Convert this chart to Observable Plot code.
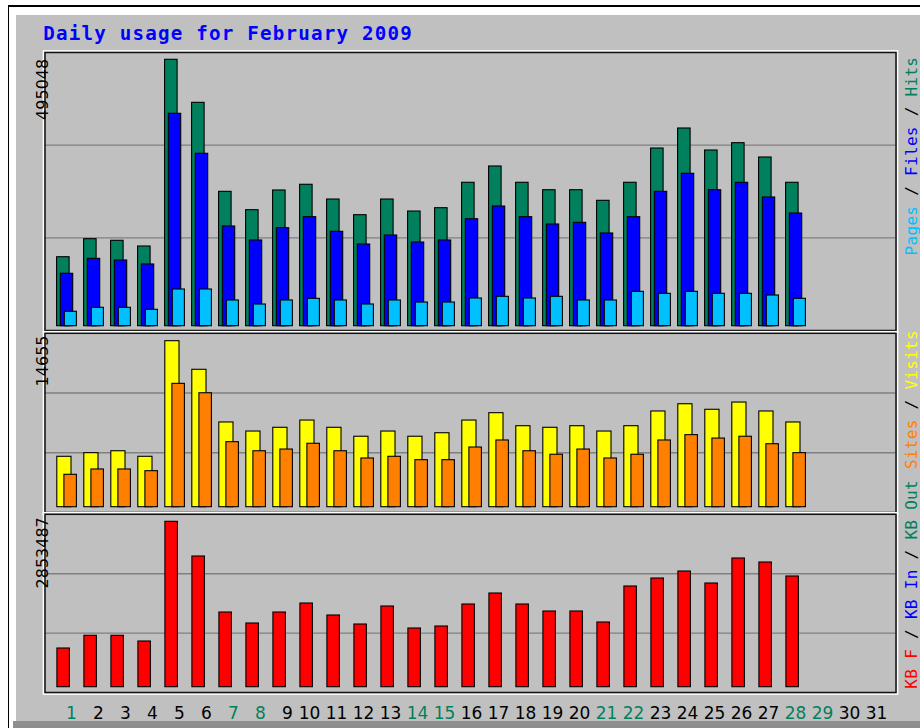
<!DOCTYPE html>
<html><head><meta charset="utf-8">
<script src="https://cdn.jsdelivr.net/npm/d3@7"></script>
<script src="https://cdn.jsdelivr.net/npm/@observablehq/plot@0.6"></script>
<style>
html,body{margin:0;padding:0;background:#fff;}
#wrap{position:relative;width:920px;height:728px;overflow:hidden;background:#fff;}
#wrap > svg{position:absolute;left:0;top:0;}
.deco{position:absolute;}
</style></head><body><div id="wrap">
<div class="deco" style="left:7.5px;top:5px;width:913px;height:1.6px;background:#000"></div>
<div class="deco" style="left:7.5px;top:5px;width:1.6px;height:723px;background:#000"></div>
<div class="deco" style="left:16px;top:15px;width:904px;height:706px;background:#c0c0c0"></div>
<div class="deco" style="left:13px;top:721px;width:907px;height:7px;background:#8e8e8e"></div>
</div>
<script>
// ---- data ----
const days = d3.range(1, 32);
const dataDays = d3.range(1, 29);
const hits   = [128200,161700,158700,148100,495048,415100,249700,215600,252200,262800,235400,206300,235400,213100,219300,266500,296800,266500,252700,252700,233000,266500,330200,367400,326500,340100,313500,266500];
const files  = [97400,125200,122100,114700,394700,320400,185300,159300,182100,202600,175400,151800,168500,155500,159300,198800,222400,202600,189000,192100,172300,202600,249700,283200,252700,266500,239200,209400];
const pages  = [26800,34200,34200,30500,68200,68200,47800,40300,47800,50900,47800,40300,47800,44000,44000,51500,54600,51500,54600,47800,47800,63900,60200,63900,60200,60200,57000,50900];
const visits = [4450,4770,4940,4450,14655,12130,7480,6680,7010,7650,7010,6220,6680,6220,6530,7650,8300,7150,7010,7150,6680,7150,8450,9090,8600,9240,8450,7480];
const sites  = [2860,3330,3330,3180,10890,10060,5740,4940,5090,5600,4940,4300,4450,4150,4150,5270,5890,4940,4630,5090,4300,4630,5890,6360,6060,6220,5560,4770];
const kbytes = [667600,886700,886700,788400,2853487,2254800,1288700,1099000,1288700,1444000,1237000,1081700,1392200,1012700,1047200,1426700,1616500,1426700,1306000,1306000,1116200,1737300,1875300,1996100,1789000,2220300,2151300,1909800];
const weekendDays = [1,7,8,14,15,21,22,28,29];
const titleText = "Daily usage for February 2009";
const legend1 = [["Pages","#00c0ff"],[" / ","#000"],["Files","#0000ff"],[" / ","#000"],["Hits","#00805c"]];
const legend2 = [["Sites","#ff8000"],[" / ","#000"],["Visits","#ffff00"]];
const legend3 = [["KB F","#ff0000"],[" / ","#000"],["KB In","#0000ff"],[" / ","#000"],["KB Out","#00805c"]];

const rows = dataDays.map((d, i) => ({day: d, hits: hits[i], files: files[i], pages: pages[i],
  visits: visits[i], sites: sites[i], kbytes: kbytes[i]}));

// ---- layout ----
const W = 920, H = 728;
const left = 44.5, right = 895.5;
const xRange = [50.4, 892.4];
const wrap = document.getElementById("wrap");

function panel({top, bottom, domain, bars, maxLabel, labelDy, extra = []}) {
  const [lo, hi] = domain;
  const grid = [lo + (hi - lo) / 3, lo + 2 * (hi - lo) / 3];
  const svg = Plot.plot({
    width: W, height: H,
    marginLeft: left, marginRight: W - right, marginTop: top, marginBottom: H - bottom,
    style: {background: "transparent", overflow: "visible"},
    x: {type: "band", domain: days, range: xRange, padding: 0, axis: null},
    y: {domain, axis: null},
    color: {type: "identity"},
    marks: [
      Plot.ruleY(grid, {stroke: "#808080", strokeWidth: 1.4}),
      ...bars.map(b => Plot.barY(rows, {x: "day", y: b.key, fill: b.color, stroke: "#000", strokeWidth: 1.1,
        insetLeft: b.l, insetRight: b.r})),
      Plot.frame({stroke: "#fff", strokeWidth: 1.5, inset: -1.6}),
      Plot.frame({stroke: "#111", strokeWidth: 1.5}),
      Plot.text([String(maxLabel)], {text: d => d, frameAnchor: "top-left", dx: -8.5, dy: labelDy,
        rotate: -90, textAnchor: "end", fontSize: 16, fontFamily: "DejaVu Sans", fill: "#000"}),
      ...extra
    ]
  });
  wrap.appendChild(svg);
  return svg;
}

function addLegend(svg, x, yTop, parts) {
  const t = d3.select(svg).append("text")
    .attr("transform", `translate(${x},${yTop}) rotate(-90)`)
    .attr("text-anchor", "end")
    .style("font-family", "DejaVu Sans Mono").style("font-size", "16px")
    .style("letter-spacing", "0.3px")
    .style("white-space", "pre");
  parts.forEach(([s, c]) => t.append("tspan").attr("fill", c).text(s));
}

const s1 = panel({top: 52, bottom: 330, domain: [-7991, 508616], maxLabel: d3.max(hits), labelDy: 6.3,
  bars: [{key: "hits", color: "#00805c", l: 3.6, r: 10.9},
         {key: "files", color: "#0000ff", l: 7.3, r: 7.3},
         {key: "pages", color: "#00c0ff", l: 11.3, r: 3.6}]});
const s2 = panel({top: 332.8, bottom: 512, domain: [-468, 15352], maxLabel: d3.max(visits), labelDy: 2.2,
  bars: [{key: "visits", color: "#ffff00", l: 3.8, r: 9.0},
         {key: "sites", color: "#ff8000", l: 10.9, r: 3.6}]});
const s3 = panel({top: 513.8, bottom: 692, domain: [-91436, 2982870], maxLabel: d3.max(kbytes), labelDy: 2.9,
  bars: [{key: "kbytes", color: "#ff0000", l: 3.9, r: 10.6}],
  extra: [
    Plot.text(days.filter(d => d < 10), {x: d => d, text: d => String(d), frameAnchor: "bottom", dy: 26, dx: 4.5,
      lineAnchor: "bottom", fontSize: 17, fontFamily: "DejaVu Sans",
      fill: d => weekendDays.includes(d) ? "#00805c" : "#000"}),
    Plot.text(days.filter(d => d >= 10), {x: d => d, text: d => String(d), frameAnchor: "bottom", dy: 26, dx: -0.5,
      lineAnchor: "bottom", fontSize: 17, fontFamily: "DejaVu Sans",
      fill: d => weekendDays.includes(d) ? "#00805c" : "#000"})
  ]});

d3.select(s1).append("text").attr("x", 43.3).attr("y", 40).attr("text-anchor", "start")
  .style("font-family", "DejaVu Sans Mono").style("font-weight", "bold").style("font-size", "19.2px")
  .style("letter-spacing", "1.2px").attr("fill", "#0000ff").text(titleText);

addLegend(s1, 916.5, 56.7, legend1);
addLegend(s2, 916.5, 330, legend2);
addLegend(s3, 916.5, 480, legend3);
</script>
</body></html>
